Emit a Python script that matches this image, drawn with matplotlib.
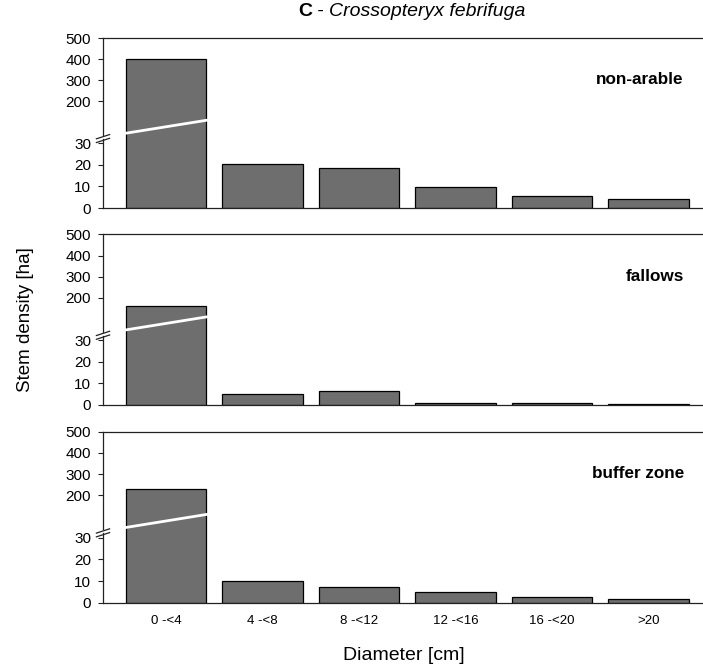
import numpy as np
import matplotlib
matplotlib.use("Agg")
import matplotlib.pyplot as plt
from matplotlib.lines import Line2D

plt.rcParams['font.family'] = ['Liberation Sans', 'DejaVu Sans']

categories = ["0 -<4", "4 -<8", "8 -<12", "12 -<16", "16 -<20", ">20"]
non_arable = [400, 20.6, 18.8, 9.6, 5.4, 4.1]
fallows = [164, 4.9, 6.7, 0.9, 0.9, 0.4]
buffer_zone = [228, 10.2, 7.1, 4.9, 2.5, 1.6]
panel_labels = ["non-arable", "fallows", "buffer zone"]
yticks = [0, 10, 20, 30, 200, 300, 400, 500]

# broken y axis: 0-30 stretched, 100-500 compressed
brk_vals = [0, 30, 100, 500]
brk_pos = [0, 0.38, 0.503, 1.0]


def fwd(y):
    return np.interp(y, brk_vals, brk_pos)


def inv(u):
    return np.interp(u, brk_pos, brk_vals)


fig = plt.figure(figsize=(7.03, 6.72), dpi=100)
W, H = 703, 672
left = 103 / W
width = 1.0 - left
panels = [(38, 208), (234.3, 405), (431.7, 602.7)]

x = np.arange(len(categories))
bar_col = "#6e6e6e"
spine_col = "#222222"

for i, (vals, lab) in enumerate(zip([non_arable, fallows, buffer_zone], panel_labels)):
    top, bot = panels[i]
    ax = fig.add_axes([left, 1 - bot / H, width, (bot - top) / H])
    ax.set_yscale('function', functions=(fwd, inv))
    ax.bar(x, vals, width=0.834, color=bar_col, edgecolor="black", linewidth=0.9)
    ax.set_xlim(-0.655, 5.563)
    ax.set_ylim(0, 500)
    ax.set_yticks(yticks)
    ax.set_yticklabels([str(t) for t in yticks])
    ax.tick_params(axis='y', direction='out', length=3.5, pad=5, labelsize=11,
                   width=0.8, color=spine_col)
    ax.tick_params(axis='x', length=0, pad=9, labelsize=9.5)
    ax.set_xticks(x)
    if i == 2:
        ax.set_xticklabels(categories)
    else:
        ax.set_xticklabels([])
    ax.spines['right'].set_visible(False)
    ax.spines['left'].set_visible(False)
    for s in ['top', 'bottom']:
        ax.spines[s].set_color(spine_col)
        ax.spines[s].set_linewidth(0.9)

    # left spine with gap at the break
    tr = ax.transAxes
    ax.add_line(Line2D([0, 0], [0, 0.405], transform=tr, color=spine_col, lw=0.9, clip_on=False))
    ax.add_line(Line2D([0, 0], [0.43, 1], transform=tr, color=spine_col, lw=0.9, clip_on=False))
    for dy in [0.0, 0.022]:
        ax.add_line(Line2D([-0.011, 0.011], [0.385 + dy, 0.41 + dy], transform=tr,
                           color=spine_col, lw=0.9, clip_on=False))

    # white break line across first bar
    btr = ax.get_xaxis_transform()
    ax.add_line(Line2D([-0.417, 0.417], [0.44, 0.516], transform=btr,
                       color="white", lw=2.0, zorder=5))

    ax.text(0.968, 0.755, lab, transform=ax.transAxes, ha='right', va='center',
            fontsize=12.3, fontweight='bold')

# title with mixed styles
t1 = fig.text(298 / W, 1 - 12 / H, "C", fontsize=14, fontweight='bold', va='center')
t2 = plt.annotate(" - ", xy=(1, 0), xycoords=t1, va='bottom', fontsize=14,
                  annotation_clip=False)
t3 = plt.annotate("Crossopteryx febrifuga", xy=(1, 0), xycoords=t2, va='bottom',
                  fontsize=14, style='italic', annotation_clip=False)

fig.text(404 / W, 1 - 655 / H, "Diameter [cm]", ha='center', va='center', fontsize=14)
fig.text(25 / W, 1 - 320 / H, "Stem density [ha]", ha='center', va='center',
         rotation=90, fontsize=13.5)

fig.savefig("out.png", dpi=100)
